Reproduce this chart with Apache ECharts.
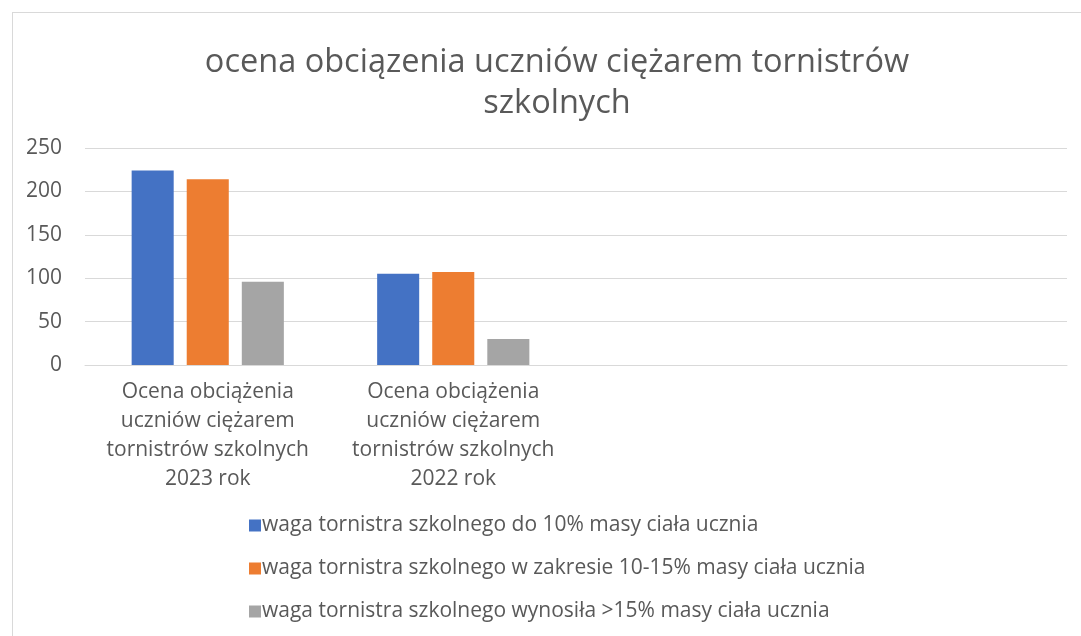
<!DOCTYPE html>
<html>
  <head>
    <meta charset="utf-8">
    <title></title>
    <style>
      html, body {margin:0; padding:0; background:#fff;}
      .frame {position:absolute; left:12px; top:12px; width:1080px; height:640px; border:1px solid #d9d9d9; box-sizing:border-box;}
      .box {position:absolute; left:0; top:0; width:1081px; height:636px;}
    </style>
    <script src="https://cdn.jsdelivr.net/npm/echarts@6/dist/echarts.min.js"></script>
  </head>
  <body>
    <div class="frame"></div>
    <div class="box"></div>
    <script>
      const categories = [
        'Ocena obciążenia\nuczniów ciężarem\ntornistrów szkolnych\n2023 rok',
        'Ocena obciążenia\nuczniów ciężarem\ntornistrów szkolnych\n2022 rok',
        '',
        ''
      ];
      const seriesNames = [
        'waga tornistra szkolnego do 10% masy ciała ucznia',
        'waga tornistra szkolnego w zakresie 10-15% masy ciała ucznia',
        'waga tornistra szkolnego wynosiła >15% masy ciała ucznia'
      ];
      const upTo10 = [224, 105];
      const from10to15 = [214, 107];
      const over15 = [96, 30];
      const colors = ['#4472c4', '#ed7d31', '#a5a5a5'];

      const font = 'Open Sans';
      const chart = echarts.init(document.querySelector('.box'));
      chart.setOption({
        animation: false,
        color: colors,
        textStyle: {fontFamily: font},
        title: {
          text: 'ocena obciązenia uczniów ciężarem tornistrów\nszkolnych',
          left: 552,
          textAlign: 'center',
          top: 37,
          textStyle: {fontSize: 32.5, fontWeight: 'normal', color: '#595959', lineHeight: 41, fontFamily: font}
        },
        legend: {
          orient: 'vertical',
          left: 244,
          top: 510,
          itemGap: 22,
          itemWidth: 12,
          itemHeight: 12,
          icon: 'rect',
          textStyle: {fontSize: 21, color: '#595959', padding: [0, 0, 0, -4]},
          data: seriesNames
        },
        grid: {left: 85, right: 14, top: 148, height: 217, containLabel: false},
        xAxis: {
          type: 'category',
          data: categories,
          axisLine: {lineStyle: {color: '#d9d9d9'}},
          axisTick: {show: false},
          axisLabel: {fontSize: 21, color: '#595959', lineHeight: 29, margin: 13, interval: 0}
        },
        yAxis: {
          type: 'value',
          min: 0,
          max: 250,
          interval: 50,
          axisLine: {show: false},
          axisTick: {show: false},
          splitLine: {lineStyle: {color: '#d9d9d9'}},
          axisLabel: {fontSize: 21, color: '#595959', margin: 23}
        },
        series: [
          {name: seriesNames[0], type: 'bar', data: upTo10, barGap: '31%', barCategoryGap: '38%'},
          {name: seriesNames[1], type: 'bar', data: from10to15},
          {name: seriesNames[2], type: 'bar', data: over15}
        ]
      });
    </script>
  </body>
</html>
